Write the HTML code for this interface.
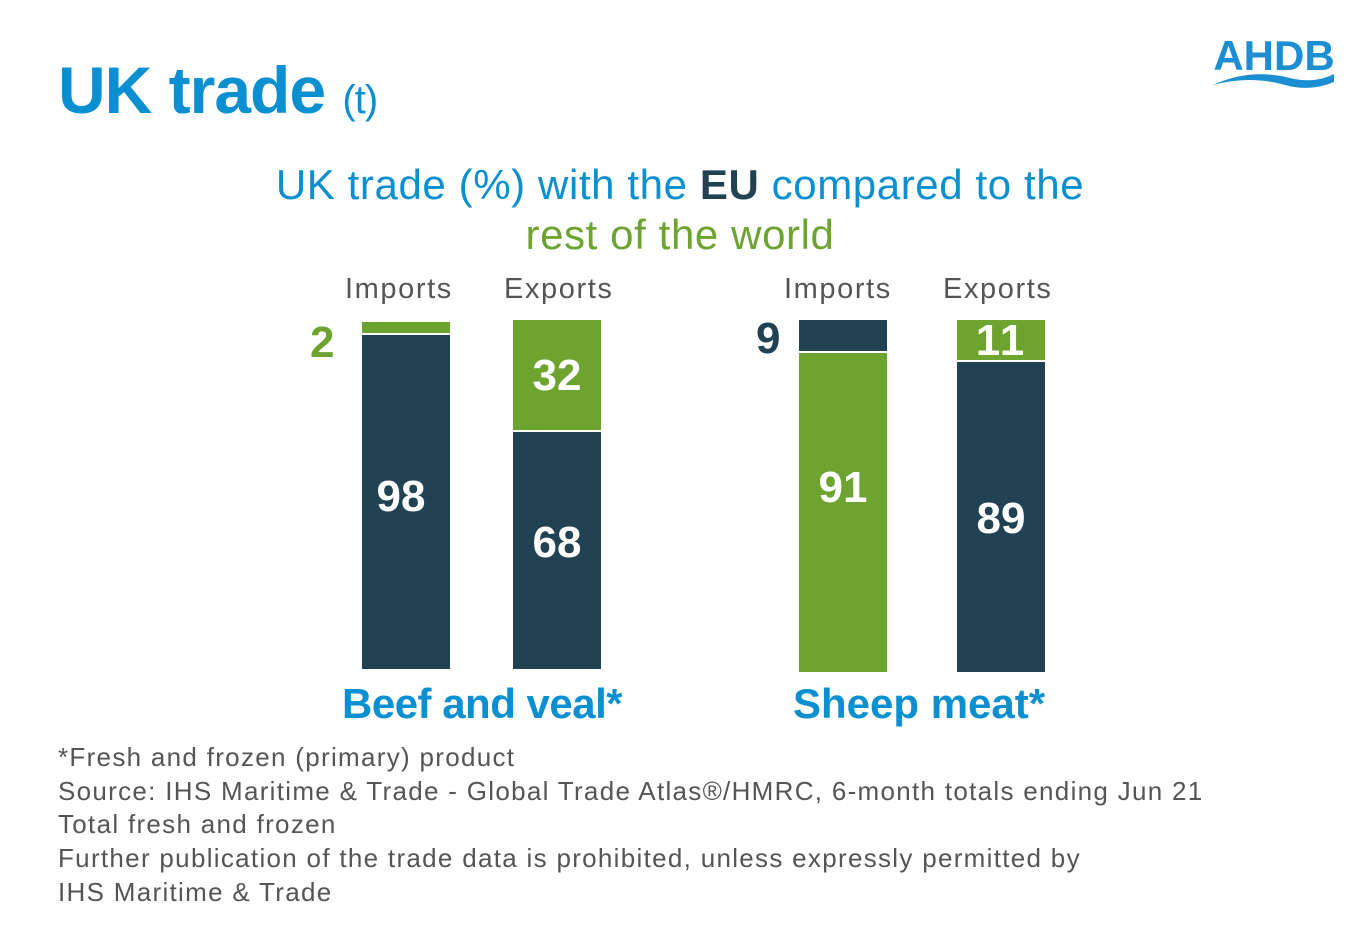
<!DOCTYPE html>
<html><head><meta charset="utf-8"><style>
body{margin:0;width:1370px;height:930px;background:#fff;position:relative;overflow:hidden;font-family:"Liberation Sans",sans-serif}
.a{position:absolute}
.b{position:absolute;width:88px}
.n{background:#214252}.g{background:#6da32f}
.v{position:absolute;width:88px;text-align:center;color:#fff;font-weight:bold;font-size:44px;line-height:44px}
.h{position:absolute;font-size:29px;color:#555;letter-spacing:1.6px}
.foot{position:absolute;left:58px;font-size:26px;color:#555;line-height:33.7px;top:741px;letter-spacing:1.3px;white-space:nowrap}
</style></head><body>
<div class="a" style="left:58px;top:52px;font-size:66px;font-weight:bold;color:#0a8fd0;letter-spacing:-1px">UK trade <span style="font-size:40px;font-weight:normal">(t)</span></div>
<svg class="a" style="left:1210px;top:30px" width="130" height="65" viewBox="0 0 130 65">
<text x="64" y="40" text-anchor="middle" font-family="Liberation Sans" font-weight="bold" font-size="42" fill="#1b8fd2">AHDB</text>
<path d="M3 55 Q40 38 80 48 Q105 54 124 44 L124 52 Q100 62 75 55 Q40 45 3 55Z" fill="#1b8fd2"/></svg>
<div class="a" style="left:0;width:1360px;text-align:center;top:160px;font-size:42px;line-height:50px;color:#0a8fd0;letter-spacing:0.6px">UK trade (%) with the <b style="color:#214252">EU</b> compared to the<br><span style="color:#6da32f">rest of the world</span></div>
<div class="h" style="left:345px;top:273px">Imports</div>
<div class="h" style="left:504px;top:273px">Exports</div>
<div class="h" style="left:784px;top:273px">Imports</div>
<div class="h" style="left:943px;top:273px">Exports</div>
<div class="b g" style="left:362px;top:322px;height:11px"></div>
<div class="b n" style="left:362px;top:335px;height:334px"></div>
<div class="b g" style="left:513px;top:320px;height:110px"></div>
<div class="b n" style="left:513px;top:432px;height:237px"></div>
<div class="b n" style="left:799px;top:320px;height:31px"></div>
<div class="b g" style="left:799px;top:353px;height:319px"></div>
<div class="b g" style="left:957px;top:320px;height:40px"></div>
<div class="b n" style="left:957px;top:362px;height:310px"></div>
<div class="a" style="left:310px;top:318px;font-size:44px;font-weight:bold;color:#6da32f">2</div>
<div class="a" style="left:756px;top:314px;font-size:44px;font-weight:bold;color:#214252">9</div>
<div class="v" style="left:357px;top:475px">98</div>
<div class="v" style="left:513px;top:354px">32</div>
<div class="v" style="left:513px;top:521px">68</div>
<div class="v" style="left:799px;top:466px">91</div>
<div class="v" style="left:957px;top:319px;letter-spacing:2px">11</div>
<div class="v" style="left:957px;top:497px">89</div>
<div class="a" style="left:342px;top:680px;font-size:42px;font-weight:bold;color:#0a8fd0;letter-spacing:-0.5px">Beef and veal*</div>
<div class="a" style="left:793px;top:680px;font-size:42px;font-weight:bold;color:#0a8fd0">Sheep meat*</div>
<div class="foot">*Fresh and frozen (primary) product<br>Source: IHS Maritime &amp; Trade - Global Trade Atlas®/HMRC, 6-month totals ending Jun 21<br>Total fresh and frozen<br>Further publication of the trade data is prohibited, unless expressly permitted by<br>IHS Maritime &amp; Trade</div>
</body></html>
